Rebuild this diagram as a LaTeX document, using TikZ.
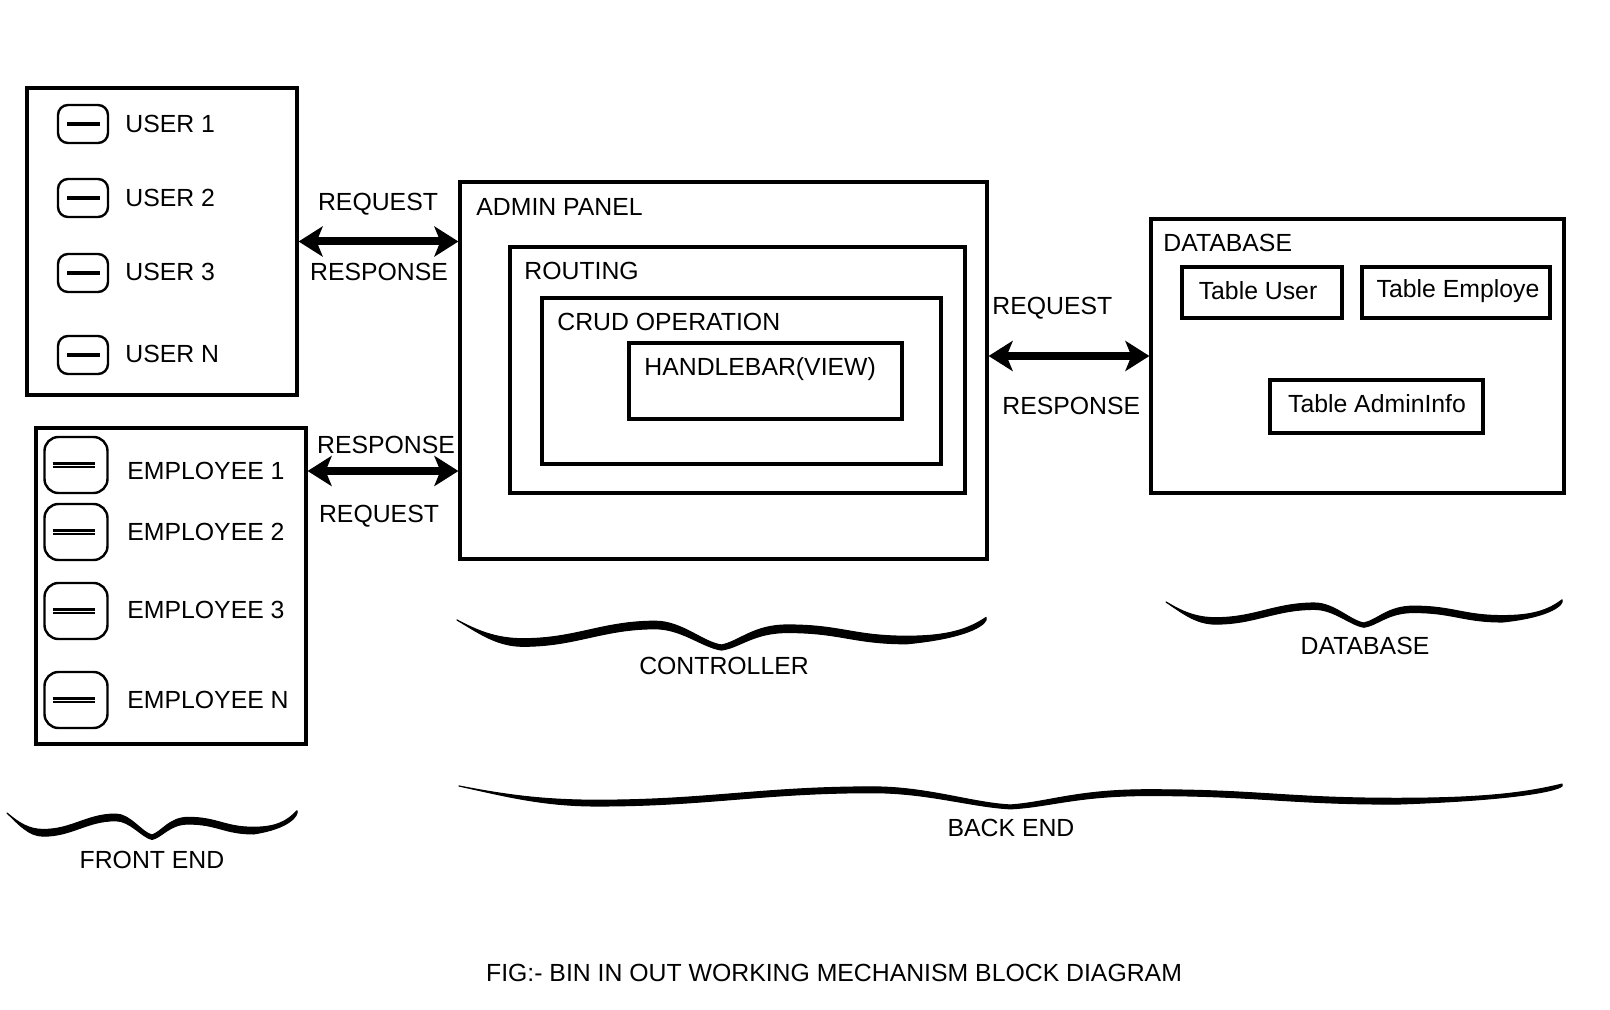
\documentclass[tikz,border=0pt]{standalone}
\usepackage{fontspec}
\setmainfont{Liberation Sans}
\usetikzlibrary{arrows.meta,fit}
\tikzset{
  pics/curlybrace/.style={code={
    \fill[draw, line width=0.6pt, line join=round]
      (0,0) .. controls (0.08,0.45) and (0.15,0.75) .. (0.25,0.75)
      .. controls (0.45,0.75) and (0.55,0.05) .. (0.75,0.05)
      .. controls (0.85,0.05) and (0.93,0.9) .. (1,1)
      .. controls (1.07,0.85) and (1.12,0.2) .. (1.25,0.2)
      .. controls (1.45,0.2) and (1.5,0.65) .. (1.7,0.65)
      .. controls (1.85,0.65) and (1.93,0.4) .. (2,-0.1)
      .. controls (2.01,0.1) and (1.95,0.7) .. (1.7,0.95)
      .. controls (1.5,0.95) and (1.45,0.5) .. (1.25,0.5)
      .. controls (1.12,0.5) and (1.07,1.1) .. (1,1.2)
      .. controls (0.93,1.1) and (0.85,0.35) .. (0.75,0.35)
      .. controls (0.55,0.35) and (0.45,1.05) .. (0.25,1.05)
      .. controls (0.15,1.05) and (0.08,0.5) .. (0,0) -- cycle;
  }}
}
\begin{document}
\begin{tikzpicture}[x=0.5pt,y=-0.5pt,font=\fontsize{12.4pt}{14pt}\selectfont]
\tikzstyle{panel}=[draw, line width=1.6pt, inner sep=0pt]
\tikzstyle{tablebox}=[draw, line width=2pt, inner sep=0pt]
\tikzstyle{tag}=[inner sep=0pt]
\tikzstyle{usericon}=[draw, line width=1.2pt, rounded corners=5pt, minimum width=25pt, minimum height=19pt, inner sep=0pt,
  path picture={\draw[line width=1.8pt] ([xshift=4.5pt]path picture bounding box.west) -- ([xshift=-4pt]path picture bounding box.east);}]
\tikzstyle{empicon}=[draw, line width=1.2pt, rounded corners=7pt, minimum width=31.5pt, minimum height=28pt, inner sep=0pt,
  path picture={\draw[line width=1.1pt, double, double distance=0.5pt] ([xshift=4pt]path picture bounding box.west) -- ([xshift=-6.5pt]path picture bounding box.east);}]
\tikzstyle{duplex}=[line width=4pt, <->, >={Stealth[length=12pt,width=15pt,inset=3pt]}]

\path[fill=white, use as bounding box] (0,0) rectangle (1610,1010);

\node[panel, fit={(27,88) (297,395)}] (users) {};
\node[usericon] (ui1) at (83,124) {};
\node[tag, anchor=west] (ut1) at (125,124) {USER 1};
\node[usericon] (ui2) at (83,198) {};
\node[tag, anchor=west] (ut2) at (125,198) {USER 2};
\node[usericon] (ui3) at (83,273) {};
\node[tag, anchor=west] (ut3) at (125,272) {USER 3};
\node[usericon] (ui4) at (83,355) {};
\node[tag, anchor=west] (ut4) at (125,354) {USER N};

\node[panel, fit={(36,428) (306,744)}] (employees) {};
\node[empicon] (ei1) at (76,465) {};
\node[tag, anchor=west] (et1) at (127,471) {EMPLOYEE 1};
\node[empicon] (ei2) at (76,532) {};
\node[tag, anchor=west] (et2) at (127,532) {EMPLOYEE 2};
\node[empicon] (ei3) at (76,611) {};
\node[tag, anchor=west] (et3) at (127,610) {EMPLOYEE 3};
\node[empicon] (ei4) at (76,700) {};
\node[tag, anchor=west] (et4) at (127,700) {EMPLOYEE N};

\node[panel, fit={(460,182) (987,559)}] (admin) {};
\node[tag, anchor=west] (admintag) at (476,207) {ADMIN PANEL};
\node[panel, fit={(510,247) (965,493)}] (routing) {};
\node[tag, anchor=west] (routingtag) at (524,271) {ROUTING};
\node[panel, fit={(542,298) (941,464)}] (crud) {};
\node[tag, anchor=west] (crudtag) at (557,322) {CRUD OPERATION};
\node[panel, fit={(629,343) (902,419)}] (view) {};
\node[tag, anchor=west] (viewtag) at (644,369) {HANDLEBAR(VIEW)};

\node[panel, fit={(1151,219) (1564,493)}] (db) {};
\node[tag, anchor=west] (dbtag) at (1163,243) {DATABASE};
\node[tablebox, fit={(1182,267) (1342,318)}] (tuser) {};
\node[tag] (tusertag) at (1258,291) {Table User};
\node[tablebox, fit={(1362,267) (1550,318)}] (temploye) {};
\node[tag, anchor=base] (temployetag) at (1458,298) {Table Employe};
\node[tablebox, fit={(1270,380) (1483,433)}] (tadmin) {};
\node[tag] (tadmintag) at (1377,404) {Table AdminInfo};

\draw[duplex] (users.east) -- (users.east -| admin.west);
\node[tag] (req1) at (378,204) {REQUEST};
\node[tag] (res1) at (379,272) {RESPONSE};

\draw[duplex] (employees.east |- et1.west) -- (admin.west |- et1.west);
\node[tag] (res2) at (386,445) {RESPONSE};
\node[tag] (req2) at (379,516) {REQUEST};

\draw[duplex] (admin.east |- db.west) -- (db.west);
\node[tag, anchor=west] (req3) at (992,308) {REQUEST};
\node[tag, anchor=west] (res3) at (1002,406) {RESPONSE};

\pic[xscale=145, yscale=22] (frontbrace) at (7,813) {curlybrace};
\node[tag] (fronttag) at (152,860) {FRONT END};

\pic[xscale=264.5, yscale=25] (ctrlbrace) at (457,620) {curlybrace};
\node[tag] (ctrltag) at (724,666) {CONTROLLER};

\pic[xscale=198, yscale=21] (dbbrace) at (1166,602) {curlybrace};
\node[tag] (dbbracetag) at (1365,646) {DATABASE};

\pic[xscale=551.5, yscale=19] (backbrace) at (459,786) {curlybrace};
\node[tag] (backtag) at (1011,828) {BACK END};

\node[tag] (caption) at (834,973) {FIG:- BIN IN OUT WORKING MECHANISM BLOCK DIAGRAM};
\end{tikzpicture}
\end{document}
